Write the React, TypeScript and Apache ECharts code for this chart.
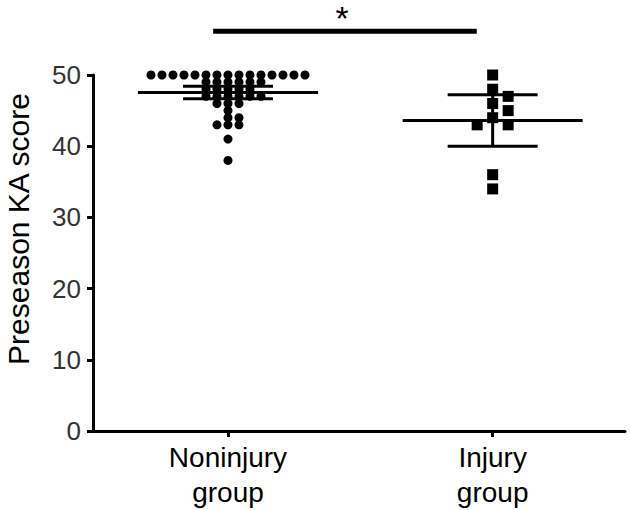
import React, { useEffect, useRef } from "react";
import * as echarts from "echarts";

// ---- data ----
const categories = ["Noninjury\ngroup", "Injury\ngroup"];
const noninjuryScores = [
  50, 50, 50, 50, 50, 50, 50, 50, 50, 50, 50, 50, 50, 50, 50,
  49, 49, 49, 49, 49, 49,
  48, 48, 48, 48, 48,
  47, 47, 47, 47, 47, 47,
  46, 46, 46,
  45,
  44, 44,
  43, 43, 43,
  41,
  38,
];
const injuryScores = [50, 48, 47, 46, 45, 44, 43, 43, 36, 34];
const yTickValues = [0, 10, 20, 30, 40, 50];
const yAxisTitle = "Preseason KA score";
const significanceLabel = "*";

// ---- layout ----
const W = 630;
const H = 510;
const GRID = { left: 93, right: 5, top: 75, bottom: 79 };
const X_MIN = 0.49;
const X_MAX = 2.5;
const Y_MIN = 0;
const Y_MAX = 50;
const pxPerX = (W - GRID.left - GRID.right) / (X_MAX - X_MIN);
const pxPerY = (H - GRID.top - GRID.bottom) / (Y_MAX - Y_MIN);

// beeswarm-like layout: place points (highest first) at the nearest free slot
function swarm(values: number[], center: number, stepPx: number, minDist: number, shape: "circle" | "rect") {
  const sorted = values.slice().sort((a, b) => b - a);
  const placed: { dx: number; dy: number; v: number }[] = [];
  for (const v of sorted) {
    const dy = v * pxPerY;
    for (let k = 0; k < 200; k++) {
      const n = Math.ceil(k / 2);
      const dx = (k % 2 === 1 ? 1 : -1) * n * stepPx;
      const ok = placed.every((p) => {
        const ax = Math.abs(p.dx - dx);
        const ay = Math.abs(p.dy - dy);
        return shape === "rect" ? !(ax < minDist && ay < minDist) : Math.hypot(ax, ay) >= minDist;
      });
      if (ok) {
        placed.push({ dx, dy, v });
        break;
      }
    }
  }
  return placed.map((p) => [center + p.dx / pxPerX, p.v]);
}

function tCrit975(df: number) {
  const z = 1.959964;
  const z3 = z ** 3, z5 = z ** 5, z7 = z ** 7;
  return (
    z +
    (z3 + z) / (4 * df) +
    (5 * z5 + 16 * z3 + 3 * z) / (96 * df * df) +
    (3 * z7 + 19 * z5 + 17 * z3 - 15 * z) / (384 * df ** 3)
  );
}

function stats(values: number[]) {
  const n = values.length;
  const mean = values.reduce((a, b) => a + b, 0) / n;
  const sd = Math.sqrt(values.reduce((a, b) => a + (b - mean) ** 2, 0) / (n - 1));
  const half = (tCrit975(n - 1) * sd) / Math.sqrt(n);
  return { mean, lo: mean - half, hi: mean + half };
}

const MEAN_HALF = 90 / pxPerX;
const WHISKER_HALF = 45 / pxPerX;

function seg(points: number[][], width: number) {
  return {
    type: "line",
    data: points,
    symbol: "none",
    clip: false,
    silent: true,
    z: 5,
    lineStyle: { color: "#000", width, cap: "butt", opacity: 1 },
  };
}

function meanCiSeries(values: number[], x: number) {
  const s = stats(values);
  return [
    seg([[x - MEAN_HALF, s.mean], [x + MEAN_HALF, s.mean]], 3),
    seg([[x - WHISKER_HALF, s.hi], [x + WHISKER_HALF, s.hi]], 3),
    seg([[x - WHISKER_HALF, s.lo], [x + WHISKER_HALF, s.lo]], 3),
    seg([[x, s.lo], [x, s.hi]], 3),
  ];
}

// significance bar between the groups (data space)
const SIG_X0 = 0.944;
const SIG_X1 = 1.94;
const SIG_Y = 56.14;

export default function App() {
  const ref = useRef<HTMLDivElement>(null);
  useEffect(() => {
    const chart = echarts.init(ref.current!, null, { renderer: "svg" });
    const font = "Liberation Sans, Arial, sans-serif";
    const option: any = {
      animation: false,
      grid: { ...GRID, containLabel: false },
      xAxis: {
        type: "value",
        min: X_MIN,
        max: X_MAX,
        splitLine: { show: false },
        axisLine: { lineStyle: { color: "#000", width: 3 } },
        axisTick: { customValues: [1, 2], length: 6, lineStyle: { color: "#000", width: 3 } },
        axisLabel: {
          customValues: [1, 2],
          formatter: (v: number) => (Math.abs(v - 1) < 1e-6 ? categories[0] : Math.abs(v - 2) < 1e-6 ? categories[1] : ""),
          fontFamily: font,
          fontSize: 28,
          lineHeight: 35,
          color: "#000",
          margin: 9,
        },
      },
      yAxis: {
        type: "value",
        min: Y_MIN,
        max: Y_MAX,
        interval: 10,
        splitLine: { show: false },
        axisLine: { show: true, lineStyle: { color: "#000", width: 3 } },
        axisTick: { show: true, length: 6, lineStyle: { color: "#000", width: 3 } },
        axisLabel: {
          fontFamily: font,
          fontSize: 26,
          color: "#333",
          margin: 12,
          formatter: (v: number) => (yTickValues.includes(v) ? String(v) : ""),
        },
      },
      graphic: [
        {
          type: "text",
          x: 342,
          y: 18,
          style: {
            text: significanceLabel,
            fontFamily: font,
            fontSize: 34,
            fill: "#000",
            align: "center",
            verticalAlign: "middle",
          },
        },
        {
          type: "text",
          x: 18,
          y: 229,
          rotation: Math.PI / 2,
          style: {
            text: yAxisTitle,
            fontFamily: font,
            fontSize: 30,
            fill: "#000",
            align: "center",
            verticalAlign: "middle",
          },
        },
      ],
      series: [
        {
          type: "scatter",
          data: swarm(noninjuryScores, 1, 11, 7, "circle"),
          symbol: "circle",
          symbolSize: 9,
          clip: false,
          itemStyle: { color: "#000", opacity: 1 },
          z: 3,
        },
        {
          type: "scatter",
          data: swarm(injuryScores, 2, 15.5, 11, "rect"),
          symbol: "rect",
          symbolSize: 11,
          clip: false,
          itemStyle: { color: "#000", opacity: 1 },
          z: 3,
        },
        ...meanCiSeries(noninjuryScores, 1),
        ...meanCiSeries(injuryScores, 2),
        seg([[SIG_X0, SIG_Y], [SIG_X1, SIG_Y]], 5),
      ],
    };
    chart.setOption(option);
    return () => chart.dispose();
  }, []);
  return <div ref={ref} style={{ position: "absolute", left: 0, top: 0, width: W, height: H }} />;
}
